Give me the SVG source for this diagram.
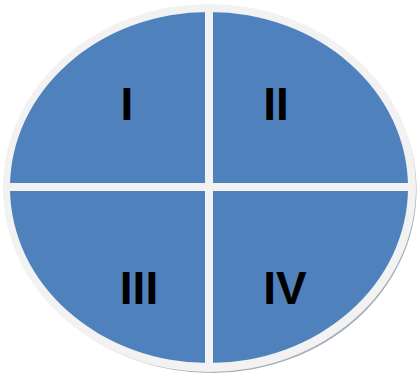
<svg xmlns="http://www.w3.org/2000/svg" width="417" height="374" viewBox="0 0 417 374">
<style>
.q{fill:#4F81BD}
.lbl{font-family:"Liberation Sans",Arial,sans-serif;font-weight:bold;font-size:46px;fill:#000;text-anchor:middle}
</style>
<defs>
<clipPath id="inner"><ellipse cx="209" cy="187.5" rx="199" ry="175.5"/></clipPath>
</defs>
<ellipse id="shadow" cx="211.5" cy="190" rx="205" ry="183" fill="#A3ACB9"/>
<ellipse id="rim" cx="209.5" cy="188" rx="206.5" ry="184" fill="#F2F2F2"/>
<g clip-path="url(#inner)">
<g id="q1"><rect class="q" x="0" y="0" width="205" height="183"/><text class="lbl" x="127" y="120">I</text></g>
<g id="q2"><rect class="q" x="213" y="0" width="204" height="183"/><text class="lbl" x="276" y="120">II</text></g>
<g id="q3"><rect class="q" x="0" y="191" width="205" height="183"/><text class="lbl" x="139" y="304">III</text></g>
<g id="q4"><rect class="q" x="213" y="191" width="204" height="183"/><text class="lbl" x="285" y="304">IV</text></g>
</g>
<g id="connectors"/>
</svg>
